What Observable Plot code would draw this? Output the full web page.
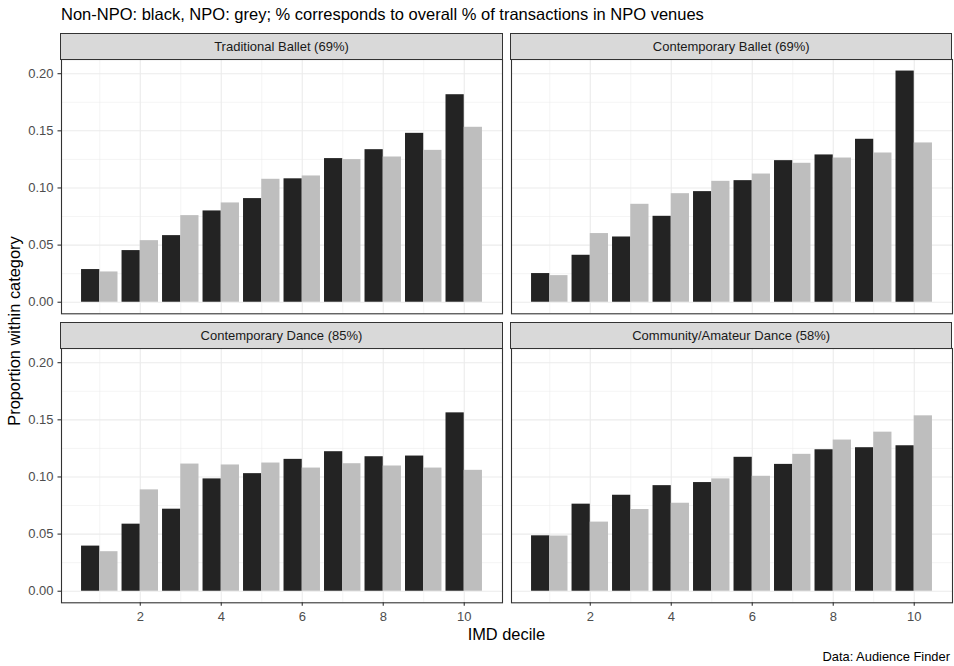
<!DOCTYPE html>
<html><head><meta charset="utf-8">
<script src="https://cdn.jsdelivr.net/npm/d3@7"></script>
<script src="https://cdn.jsdelivr.net/npm/@observablehq/plot@0.6"></script>
<style>
body{margin:0;background:#fff;font-family:"Liberation Sans",Arial,Helvetica,sans-serif;}
#chart{position:relative;width:954px;height:666px;overflow:hidden;background:#fff}
#chart svg.panel{position:absolute;overflow:visible}
.strip{position:absolute;background:#d9d9d9;border:1.1px solid #333;box-sizing:border-box;text-align:center;font-size:13px;color:#1a1a1a;display:flex;align-items:center;justify-content:center}
#overlay{position:absolute;left:0;top:0}
</style></head><body><div id="chart"></div>
<script>
// ---- data ----
const deciles = [1, 2, 3, 4, 5, 6, 7, 8, 9, 10];
const categories = ["Traditional Ballet (69%)", "Contemporary Ballet (69%)", "Contemporary Dance (85%)", "Community/Amateur Dance (58%)"];
const tradBalletNonNPO = [0.0286, 0.0452, 0.0583, 0.0799, 0.0907, 0.1080, 0.1257, 0.1335, 0.1478, 0.1816];
const tradBalletNPO    = [0.0265, 0.0539, 0.0758, 0.0869, 0.1076, 0.1105, 0.1248, 0.1271, 0.1329, 0.1531];
const contBalletNonNPO = [0.0251, 0.0411, 0.0571, 0.0752, 0.0968, 0.1064, 0.1239, 0.1289, 0.1426, 0.2023];
const contBalletNPO    = [0.0233, 0.0601, 0.0857, 0.0950, 0.1058, 0.1122, 0.1216, 0.1262, 0.1306, 0.1394];
const contDanceNonNPO  = [0.0395, 0.0587, 0.0718, 0.0983, 0.1029, 0.1154, 0.1221, 0.1177, 0.1183, 0.1561];
const contDanceNPO     = [0.0346, 0.0887, 0.1113, 0.1105, 0.1122, 0.1078, 0.1116, 0.1096, 0.1078, 0.1058];
const communityNonNPO  = [0.0485, 0.0762, 0.0840, 0.0924, 0.0951, 0.1172, 0.1110, 0.1238, 0.1256, 0.1273];
const communityNPO     = [0.0483, 0.0605, 0.0715, 0.0770, 0.0983, 0.1006, 0.1198, 0.1323, 0.1392, 0.1535];
const xTicks = [2, 4, 6, 8, 10];
const xMinor = [1, 3, 5, 7, 9];
const yTicks = [0, 0.05, 0.10, 0.15, 0.20];
const yMinor = [0.025, 0.075, 0.125, 0.175];
const groups = ["Non-NPO", "NPO"];
const groupColors = ["#232323", "#bebebe"];
const titleText = "Non-NPO: black, NPO: grey; % corresponds to overall % of transactions in NPO venues";
const xTitle = "IMD decile";
const yTitle = "Proportion within category";
const captionText = "Data: Audience Finder";

const seriesByCategory = [
  [tradBalletNonNPO, tradBalletNPO],
  [contBalletNonNPO, contBalletNPO],
  [contDanceNonNPO, contDanceNPO],
  [communityNonNPO, communityNPO]
];

const rows = [];
seriesByCategory.forEach((pair, ci) => {
  pair.forEach((vals, gi) => {
    vals.forEach((v, k) => rows.push({category: categories[ci], group: groups[gi], g: gi, decile: deciles[k], value: v}));
  });
});

// ggplot-like scale domains (5% expansion)
const barW = 0.45;
const xMinEdge = d3.min(deciles) - barW, xMaxEdge = d3.max(deciles) + barW;
const xPad = (xMaxEdge - xMinEdge) * 0.05;
const xDomain = [xMinEdge - xPad, xMaxEdge + xPad];
const yMax = d3.max(rows, d => d.value);
const yDomain = [-yMax * 0.05, yMax * 1.05];

const chart = document.getElementById("chart");
const colX = [61, 510.7], panelW = 441;
const rowY = [59.3, 348.3], panelH = 254.3;
const stripH = 26.6;

categories.forEach((cat, i) => {
  const col = i % 2, row = Math.floor(i / 2);
  const ml = col === 0 ? 61 : 2, mr = 2, mt = 2, mb = row === 1 ? 30 : 2;
  const data = rows.filter(d => d.category === cat);
  const marks = [
    Plot.ruleX(xMinor, {stroke: "#ebebeb", strokeWidth: 0.55}),
    Plot.ruleY(yMinor, {stroke: "#ebebeb", strokeWidth: 0.55}),
    Plot.ruleX(xTicks, {stroke: "#ebebeb", strokeWidth: 1.1}),
    Plot.ruleY(yTicks, {stroke: "#ebebeb", strokeWidth: 1.1}),
    Plot.rectY(data, {
      x1: d => d.decile - barW + d.g * barW,
      x2: d => d.decile + d.g * barW,
      y: "value",
      fill: d => groupColors[d.g]
    }),
    Plot.frame({stroke: "#333", strokeWidth: 1.1})
  ];
  if (col === 0) marks.push(Plot.axisY(yTicks, {label: null, tickFormat: d3.format(".2f"), tickSize: 3.5, tickPadding: 4.5, stroke: "#333", fill: "#4d4d4d", fontSize: 13, strokeWidth: 1.1}));
  if (row === 1) marks.push(Plot.axisX(xTicks, {label: null, tickFormat: d3.format("d"), tickSize: 3.5, tickPadding: 5, stroke: "#333", fill: "#4d4d4d", fontSize: 13, strokeWidth: 1.1}));
  const svg = Plot.plot({
    width: ml + panelW + mr,
    height: mt + panelH + mb,
    marginLeft: ml, marginRight: mr, marginTop: mt, marginBottom: mb,
    style: {fontFamily: '"Liberation Sans", Arial, sans-serif', fontSize: "13px", background: "transparent", overflow: "visible"},
    x: {domain: xDomain, axis: null},
    y: {domain: yDomain, axis: null},
    marks
  });
  svg.classList.add("panel");
  svg.style.left = (colX[col] - ml) + "px";
  svg.style.top = (rowY[row] - mt) + "px";
  chart.appendChild(svg);
  const strip = document.createElement("div");
  strip.className = "strip";
  strip.style.left = (colX[col] - 0.55) + "px";
  strip.style.top = (rowY[row] - stripH) + "px";
  strip.style.width = (panelW + 1.1) + "px";
  strip.style.height = (stripH + 0.55) + "px";
  strip.textContent = cat;
  chart.appendChild(strip);
});

// overlay texts
const ov = d3.select(chart).append("svg").attr("id", "overlay").attr("width", 954).attr("height", 666)
  .style("font-family", '"Liberation Sans", Arial, sans-serif');
ov.append("text").attr("x", 61).attr("y", 20).attr("font-size", 16.5).attr("fill", "#000").text(titleText);
ov.append("text").attr("x", (colX[0] + colX[1] + panelW) / 2).attr("y", 640).attr("text-anchor", "middle").attr("font-size", 16.4).attr("fill", "#000").text(xTitle);
ov.append("text").attr("transform", `translate(20,331) rotate(-90)`).attr("text-anchor", "middle").attr("font-size", 16.4).attr("fill", "#000").text(yTitle);
ov.append("text").attr("x", 950).attr("y", 661).attr("text-anchor", "end").attr("font-size", 12.9).attr("fill", "#000").text(captionText);
</script></body></html>
